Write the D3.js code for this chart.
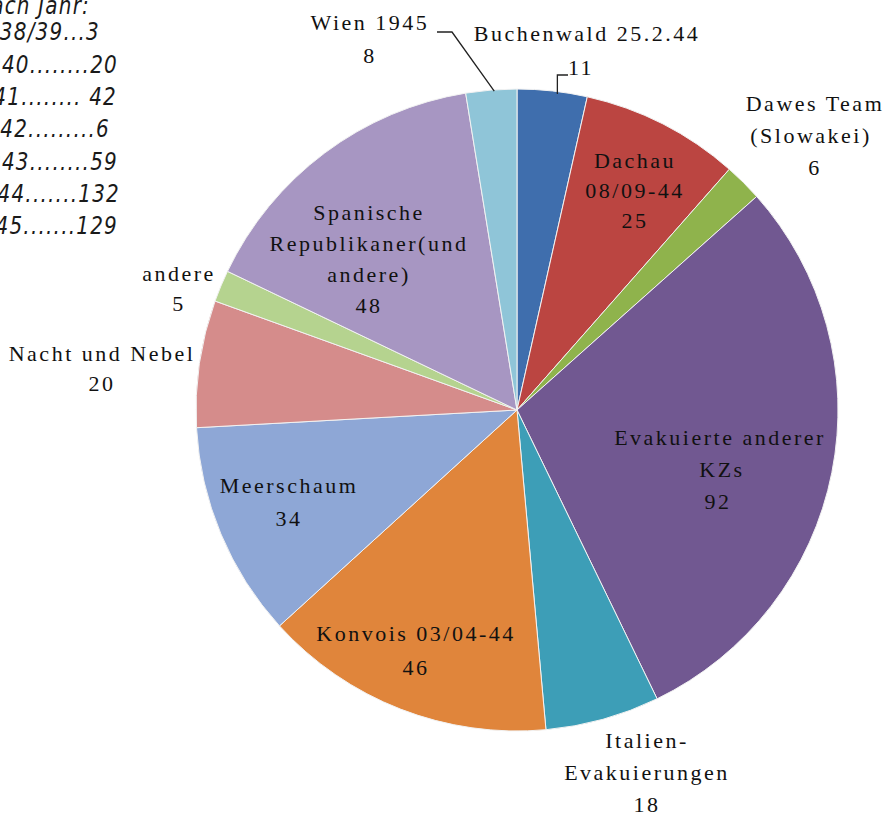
<!DOCTYPE html>
<html>
<head>
<meta charset="utf-8">
<script src="https://cdn.jsdelivr.net/npm/d3@7/dist/d3.min.js"></script>
<style>
  html, body { margin: 0; padding: 0; background: #fff; }
  svg { display: block; }
  .lbl { font-family: "Liberation Serif", "DejaVu Serif", serif; font-size: 22px; fill: #111; letter-spacing: 2.5px; }
  .yr { font-family: "DejaVu Sans", Verdana, sans-serif; font-style: italic; font-size: 20px; fill: #1a1a1a; letter-spacing: 1.2px; }
</style>
</head>
<body>
<svg id="chart" width="889" height="813"></svg>
<script>
// --- DATA ---
const categories = [
  "Buchenwald 25.2.44", "Dachau 08/09-44", "Dawes Team (Slowakei)", "Evakuierte anderer KZs",
  "Italien-Evakuierungen", "Konvois 03/04-44", "Meerschaum", "Nacht und Nebel",
  "andere", "Spanische Republikaner(und andere)", "Wien 1945"
];
const values = [11, 25, 6, 92, 18, 46, 34, 20, 5, 48, 8];
const sliceColors = ["#3f6ead", "#bb4541", "#8fb34c", "#715891", "#3d9eb7", "#e0853b",
                     "#8ea7d6", "#d58c8b", "#b5d38f", "#a796c2", "#8fc5d8"];

// label lines as they break in the picture
const labelLines = [
  ["Buchenwald 25.2.44", "11"],
  ["Dachau", "08/09-44", "25"],
  ["Dawes Team", "(Slowakei)", "6"],
  ["Evakuierte anderer", "KZs", "92"],
  ["Italien-", "Evakuierungen", "18"],
  ["Konvois 03/04-44", "46"],
  ["Meerschaum", "34"],
  ["Nacht und Nebel", "20"],
  ["andere", "5"],
  ["Spanische", "Republikaner(und", "andere)", "48"],
  ["Wien 1945", "8"]
];

// side note, cut off at the left edge in the original
const yearLines = ["Nach Jahr:", "1938/39...3", "1940........20", "1941........ 42",
                   "1942.........6", "1943........59", "1944.......132", "1945.......129"];

// --- LAYOUT ---
const cx = 517, cy = 410, radius = 321;
// centre of each text line: [x, y of first line, line step]
const labelAt = [
  [587, 33, 34], [635, 160, 30], [815, 103, 32], [720, 437, 32], [647, 740, 32], [416, 633, 34],
  [289, 485, 33], [102, 353, 30], [179, 273, 30], [369, 212, 31], [370, 22, 33]
];
// extra x offsets for lines that sit off-centre
const lineShift = { "11": -6, "(Slowakei)": -4, "KZs": 2, "92": -2 };
// right edge of each year line
const yearRight = [90, 100, 118, 117, 110, 118, 120, 118];

const svg = d3.select("#chart");
const g = svg.append("g").attr("transform", `translate(${cx},${cy})`);

const pie = d3.pie().sort(null).value(d => d);
const arcs = pie(values);
const arc = d3.arc().innerRadius(0).outerRadius(radius);

g.selectAll("path.slice")
  .data(arcs)
  .join("path")
  .attr("class", "slice")
  .attr("d", arc)
  .attr("fill", (d, i) => sliceColors[i])
  .attr("stroke", "#f2f2f2")
  .attr("stroke-width", 1);

// leader lines for the two thin slices at the top
function edgePoint(d) {
  const a = (d.startAngle + d.endAngle) / 2;
  return [cx + radius * Math.sin(a), cy - radius * Math.cos(a)];
}
const wienEdge = edgePoint(arcs[10]);
const buchEdge = edgePoint(arcs[0]);
svg.append("polyline")
  .attr("points", [[437, 32], [452, 32], [wienEdge[0] + 3, wienEdge[1] + 1]].map(p => p.join(",")).join(" "))
  .attr("fill", "none").attr("stroke", "#222").attr("stroke-width", 1.3);
svg.append("polyline")
  .attr("points", [[568, 75], [buchEdge[0] + 5, 75], [buchEdge[0] + 5, buchEdge[1] + 3]].map(p => p.join(",")).join(" "))
  .attr("fill", "none").attr("stroke", "#222").attr("stroke-width", 1.3);

// slice labels
labelLines.forEach((lines, i) => {
  const [lx, ly, step] = labelAt[i];
  const t = svg.append("text").attr("class", "lbl").attr("text-anchor", "middle");
  lines.forEach((s, k) => {
    t.append("tspan")
      .attr("x", lx + (lineShift[s] || 0))
      .attr("y", ly + k * step)
      .attr("dy", "0.35em")
      .text(s);
  });
});

// year list at top left, drawn a little taller than wide
const yg = svg.append("g").attr("transform", "scale(1,1.2)");
yearLines.forEach((s, k) => {
  yg.append("text")
    .attr("class", "yr")
    .attr("text-anchor", "end")
    .attr("x", yearRight[k])
    .attr("y", (k === 0 ? 6 : 32 + (k - 1) * 32.3) / 1.2)
    .attr("dy", "0.35em")
    .text(s);
});
</script>
</body>
</html>
